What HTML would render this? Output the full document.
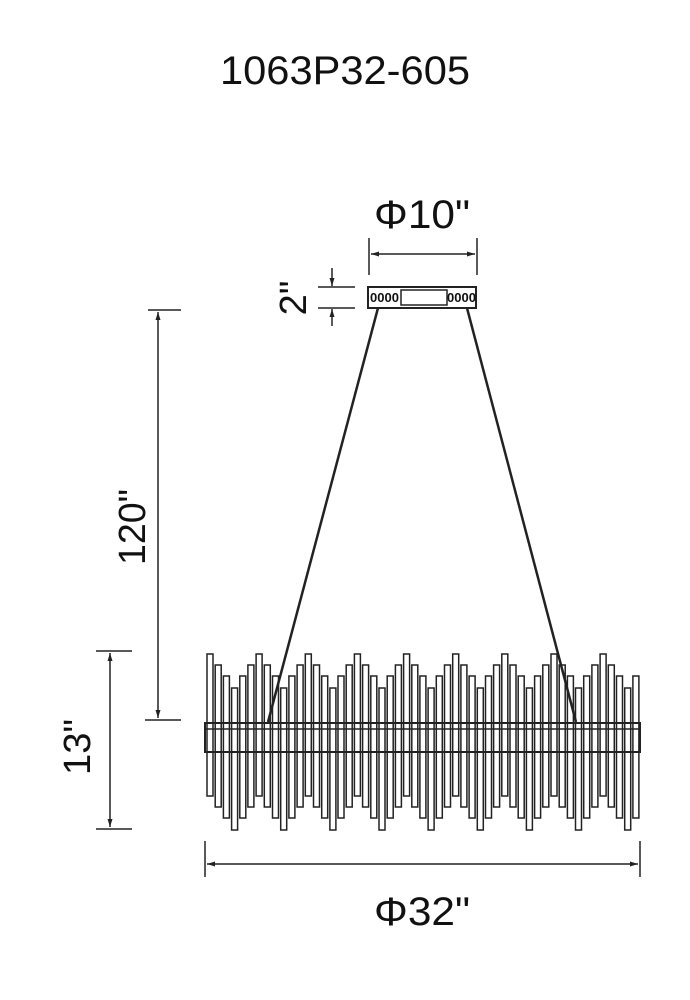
<!DOCTYPE html>
<html><head><meta charset="utf-8"><style>
html,body{margin:0;padding:0;background:#fff;width:690px;height:1000px;overflow:hidden}
svg{display:block}
text{font-family:"Liberation Sans",sans-serif;fill:#111}
</style></head><body>
<svg id="s" width="690" height="1000" viewBox="0 0 690 1000" xmlns="http://www.w3.org/2000/svg">
<defs><marker id="a" markerUnits="userSpaceOnUse" markerWidth="8" markerHeight="5" refX="8" refY="2.5" orient="auto-start-reverse"><path d="M0,0 L8,2.5 L0,5 z" fill="#222"/></marker></defs>
<text x="345" y="84" font-size="40" text-anchor="middle" textLength="250" lengthAdjust="spacingAndGlyphs">1063P32-605</text>
<text x="422" y="228" font-size="40" text-anchor="middle" textLength="96" lengthAdjust="spacingAndGlyphs">Φ10"</text>
<g id="rods" stroke="#222" stroke-width="1.5" fill="#fff"></g>
<g stroke="#222" stroke-width="1.5" fill="none">
<line x1="369" y1="238" x2="369" y2="275"/><line x1="477" y1="238" x2="477" y2="275"/>
<line x1="371" y1="254" x2="475" y2="254" marker-start="url(#a)" marker-end="url(#a)"/>
<line x1="318" y1="287" x2="355" y2="287"/><line x1="318" y1="308" x2="355" y2="308"/>
<line x1="332" y1="268" x2="332" y2="286" marker-end="url(#a)"/>
<line x1="332" y1="326" x2="332" y2="309" marker-end="url(#a)"/>
<line x1="148" y1="310" x2="181" y2="310"/><line x1="145" y1="720" x2="181" y2="720"/>
<line x1="158" y1="312" x2="158" y2="718" marker-start="url(#a)" marker-end="url(#a)"/>
<line x1="96" y1="651" x2="132" y2="651"/><line x1="96" y1="829" x2="132" y2="829"/>
<line x1="110" y1="653" x2="110" y2="827" marker-start="url(#a)" marker-end="url(#a)"/>
<line x1="205" y1="841" x2="205" y2="877"/><line x1="640" y1="841" x2="640" y2="877"/>
<line x1="207" y1="864" x2="638" y2="864" marker-start="url(#a)" marker-end="url(#a)"/>
<rect x="368" y="287" width="108" height="21" stroke-width="2"/>
<rect x="401" y="290" width="46" height="15" stroke-width="1.5"/>
<line x1="378" y1="308" x2="268" y2="722" stroke-width="2.5"/>
<line x1="467" y1="308" x2="576" y2="722" stroke-width="2.5"/>
<rect x="205" y="723" width="435" height="29" stroke-width="2"/>
<line x1="205" y1="729" x2="640" y2="729"/>
</g>
<text x="384.5" y="302" font-size="13" font-weight="bold" text-anchor="middle">0000</text>
<text x="461.5" y="302" font-size="13" font-weight="bold" text-anchor="middle">0000</text>
<text transform="translate(306,298) rotate(-90)" font-size="38" text-anchor="middle">2"</text>
<text transform="translate(145,527) rotate(-90)" font-size="38" text-anchor="middle" textLength="76" lengthAdjust="spacingAndGlyphs">120"</text>
<text transform="translate(90,747) rotate(-90)" font-size="38" text-anchor="middle" textLength="56" lengthAdjust="spacingAndGlyphs">13"</text>
<text x="422" y="925" font-size="40" text-anchor="middle" textLength="96" lengthAdjust="spacingAndGlyphs">Φ32"</text>
</svg>
<script>
var g=document.getElementById('rods'),off=[0,11,22,34,22,11],s='';
for(var i=0;i<53;i++){var x=207+i*8.19,t=654+off[i%6];s+='<rect x="'+x.toFixed(1)+'" y="'+t+'" width="6" height="142"/>';}
g.innerHTML=s;
</script>
</body></html>
